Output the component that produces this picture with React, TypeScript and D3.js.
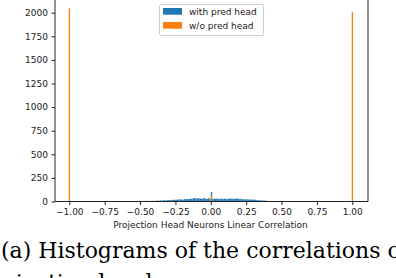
import * as d3 from 'd3'
import { useEffect, useRef } from 'react'

// blue histogram: bins of width 0.01 starting at -0.48
const binStart = -0.48
const binWidth = 0.01
const withPred = [
  6, 0, 8, 5, 0, 7, 6, 9, 0, 8,
  10, 7, 12, 9, 11, 14, 10, 13, 16, 12,
  18, 15, 20, 17, 22, 19, 24, 21, 18, 26,
  23, 28, 25, 30, 27, 33, 38, 29, 35, 31,
  34, 28, 32, 36, 30, 27, 33, 29, 31, 26,
  30, 28, 32, 27, 29, 31, 26, 30, 28, 25,
  30, 33, 29, 27, 31, 26, 35, 28, 24, 30,
  22, 26, 21, 25, 19, 23, 18, 22, 17, 20,
  15, 12, 14, 10, 13, 8, 11, 0, 7, 5,
]
// the spike at exactly 0
const spikes = [{ x: 0, with: 100, without: 60 }]
// orange histogram: nearly all neurons at -1 and 1
const withoutPred = [
  { x: -1, n: 2045 },
  { x: 1, n: 2010 },
]
const yTicks = [0, 250, 500, 750, 1000, 1250, 1500, 1750, 2000]
const xTicks = [-1, -0.75, -0.5, -0.25, 0, 0.25, 0.5, 0.75, 1]
const seriesNames = ['with pred head', 'w/o pred head']
const colors = ['#1f77b4', '#ff7f0e']

const App = () => {
  const svgRef = useRef<SVGSVGElement>(null)

  useEffect(() => {
    const svg = d3.select(svgRef.current)
    svg.selectAll('*').remove()

    const left = 55
    const right = 368
    const bottom = 201.5
    const x = d3.scaleLinear().domain([-1, 1]).range([69.3, 352.3])
    const y = d3.scaleLinear().domain([0, 2000]).range([bottom, 12.7])
    const font = 'DejaVu Sans'

    // bars
    const g = svg.append('g')
    g.selectAll('rect.blue')
      .data(withPred)
      .join('rect')
      .attr('x', (d, i) => x(binStart + i * binWidth))
      .attr('width', x(binWidth) - x(0))
      .attr('y', (d) => y(d))
      .attr('height', (d) => bottom - y(d))
      .attr('fill', colors[0])
    g.selectAll('rect.spike')
      .data(spikes)
      .join('rect')
      .attr('x', (d) => x(d.x))
      .attr('width', 1.4)
      .attr('y', (d) => y(d.with))
      .attr('height', (d) => bottom - y(d.with))
      .attr('fill', colors[0])
    g.selectAll('rect.spikeo')
      .data(spikes)
      .join('rect')
      .attr('x', (d) => x(d.x))
      .attr('width', 1.2)
      .attr('y', (d) => y(d.without))
      .attr('height', (d) => bottom - y(d.without))
      .attr('fill', colors[1])
    g.selectAll('rect.orange')
      .data(withoutPred)
      .join('rect')
      .attr('x', (d) => x(d.x) - 0.6)
      .attr('width', 1.3)
      .attr('y', (d) => y(d.n))
      .attr('height', (d) => bottom - y(d.n))
      .attr('fill', colors[1])

    // spines
    svg.append('line').attr('x1', left).attr('x2', left).attr('y1', -5).attr('y2', bottom)
      .attr('stroke', '#222').attr('stroke-width', 1)
    svg.append('line').attr('x1', right).attr('x2', right).attr('y1', -5).attr('y2', bottom)
      .attr('stroke', '#222').attr('stroke-width', 1)
    svg.append('line').attr('x1', left).attr('x2', right).attr('y1', bottom).attr('y2', bottom)
      .attr('stroke', '#222').attr('stroke-width', 1)

    // y axis
    const yAxis = d3.axisLeft(y).tickValues(yTicks).tickSizeInner(3.5).tickSizeOuter(0).tickPadding(3.5)
      .tickFormat((d) => String(d))
    const yG = svg.append('g').attr('transform', `translate(${left},0)`).call(yAxis)
    yG.select('.domain').remove()
    yG.selectAll('text').attr('font-family', font).attr('font-size', 9).attr('fill', '#222')
    yG.selectAll('line').attr('stroke', '#222')

    // x axis
    const xAxis = d3.axisBottom(x).tickValues(xTicks).tickSizeInner(3.5).tickSizeOuter(0).tickPadding(3.5)
      .tickFormat((d) => d3.format('.2f')(d as number).replace('-', '\u2212'))
    const xG = svg.append('g').attr('transform', `translate(0,${bottom})`).call(xAxis)
    xG.select('.domain').remove()
    xG.selectAll('text').attr('font-family', font).attr('font-size', 9).attr('fill', '#222')
    xG.selectAll('line').attr('stroke', '#222')

    svg.append('text')
      .attr('x', 210.5).attr('y', 228)
      .attr('text-anchor', 'middle')
      .attr('font-family', font).attr('font-size', 9).attr('fill', '#222')
      .text('Projection Head Neurons Linear Correlation')

    // legend
    const lg = svg.append('g')
    lg.append('rect').attr('x', 159.5).attr('y', 4.5).attr('width', 104).attr('height', 31)
      .attr('rx', 2).attr('fill', 'white').attr('fill-opacity', 0.8).attr('stroke', '#ccc')
    seriesNames.forEach((name, i) => {
      lg.append('rect').attr('x', 163).attr('y', 8 + i * 14).attr('width', 19).attr('height', 6.7)
        .attr('fill', colors[i])
      lg.append('text').attr('x', 189).attr('y', 11.5 + i * 14).attr('dy', '0.35em')
        .attr('font-family', font).attr('font-size', 9).attr('fill', '#222')
        .text(name)
    })

    // caption (cut off by the frame, as in the source figure)
    svg.append('text').attr('x', 1).attr('y', 258)
      .attr('font-family', 'DejaVu Serif').attr('font-size', 22).attr('fill', '#000')
      .text('(a) Histograms of the correlations of')
    svg.append('text').attr('x', -22).attr('y', 290)
      .attr('font-family', 'DejaVu Serif').attr('font-size', 22).attr('fill', '#000')
      .text('projection head.')
  }, [])

  return (
    <svg
      ref={svgRef}
      width={396}
      height={278}
      style={{ position: 'absolute', left: 0, top: 0, background: 'white' }}
    />
  )
}

export default App
